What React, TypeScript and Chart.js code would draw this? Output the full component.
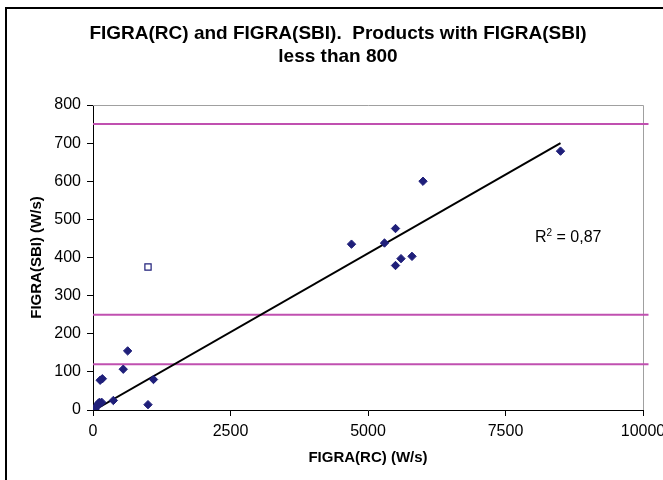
import React, { useEffect, useRef } from "react";
import { Chart, registerables } from "chart.js";

Chart.register(...registerables);

const FONT = "'Liberation Sans', Arial, Helvetica, sans-serif";

// Filled diamonds: products (FIGRA(RC), FIGRA(SBI))
const figraRC = [25, 40, 60, 80, 100, 120, 160, 130, 170, 370, 550, 630, 1000, 1100, 4700, 5300, 5500, 5500, 5600, 5800, 6000, 8500];
const figraSBI = [0, 3, 8, 12, 18, 20, 20, 78, 82, 25, 107, 155, 14, 80, 435, 438, 476, 379, 397, 403, 600, 679];

// Open square (outlier)
const outlierRC = [1000];
const outlierSBI = [375];

// Linear trend line end points
const trendRC = [25, 8500];
const trendSBI = [0, 700];

// Horizontal class limits
const limitLevels = [750, 250, 120];
const limitSpan = [0, 10100];

const xMin = 0, xMax = 10000, xStep = 2500;
const yMin = 0, yMax = 800, yStep = 100;

const titleLines = ["FIGRA(RC) and FIGRA(SBI).  Products with FIGRA(SBI)", "less than 800"];
const xTitle = "FIGRA(RC) (W/s)";
const yTitle = "FIGRA(SBI) (W/s)";
const r2Text = "0,87";

const NAVY = "#1f1f7a";
const MAGENTA = "#c050b0";

export default function App() {
  const ref = useRef<HTMLCanvasElement | null>(null);

  useEffect(() => {
    document.body.style.margin = "0";
    const canvas = ref.current;
    if (!canvas) return;

    const decor = {
      id: "decor",
      beforeDraw(chart: any) {
        const ctx = chart.ctx;
        ctx.save();
        ctx.fillStyle = "#ffffff";
        ctx.fillRect(0, 0, chart.width, chart.height);
        ctx.fillStyle = "#000000";
        ctx.fillRect(5, 7, 2, chart.height);
        ctx.fillRect(5, 7, chart.width, 2);
        ctx.restore();
      },
      beforeDatasetsDraw(chart: any) {
        const { left, top, right, bottom } = chart.chartArea;
        const ctx = chart.ctx;
        ctx.save();
        ctx.strokeStyle = "#a0a0a0";
        ctx.lineWidth = 1;
        ctx.beginPath();
        ctx.moveTo(left, top + 0.5);
        ctx.lineTo(right + 0.5, top + 0.5);
        ctx.lineTo(right + 0.5, bottom);
        ctx.stroke();
        ctx.restore();
      },
      afterDraw(chart: any) {
        const ctx = chart.ctx;
        const { left, top, right, bottom } = chart.chartArea;
        ctx.save();
        ctx.fillStyle = "#000000";
        ctx.textAlign = "center";
        ctx.textBaseline = "alphabetic";
        ctx.font = `bold 19px ${FONT}`;
        ctx.fillText(titleLines[0], 338, 39);
        ctx.fillText(titleLines[1], 338, 62);

        ctx.textBaseline = "middle";
        ctx.font = `bold 15px ${FONT}`;
        ctx.fillText(xTitle, (left + right) / 2, 458);

        ctx.save();
        ctx.translate(37, (top + bottom) / 2);
        ctx.rotate(-Math.PI / 2);
        ctx.fillText(yTitle, 0, 0);
        ctx.restore();

        // R² label
        ctx.textAlign = "left";
        ctx.textBaseline = "alphabetic";
        const x0 = 535, base = 242;
        ctx.font = `16px ${FONT}`;
        ctx.fillText("R", x0, base);
        const wR = ctx.measureText("R").width;
        ctx.font = `10px ${FONT}`;
        ctx.fillText("2", x0 + wR, base - 6);
        const w2 = ctx.measureText("2").width;
        ctx.font = `16px ${FONT}`;
        ctx.fillText(" = " + r2Text, x0 + wR + w2, base);
        ctx.restore();
      },
    };

    const limitSets = limitLevels.map((lv) => ({
      type: "line" as const,
      data: limitSpan.map((x) => ({ x, y: lv })),
      borderColor: MAGENTA,
      borderWidth: 2,
      pointRadius: 0,
      fill: false,
      clip: false as any,
    }));

    const chart = new Chart(canvas, {
      type: "scatter",
      data: {
        datasets: [
          {
            data: figraRC.map((x, i) => ({ x, y: figraSBI[i] })),
            pointStyle: "rectRot",
            pointRadius: 4.2,
            backgroundColor: NAVY,
            borderColor: NAVY,
            borderWidth: 1,
            showLine: false,
          },
          {
            data: outlierRC.map((x, i) => ({ x, y: outlierSBI[i] })),
            pointStyle: "rect",
            pointRadius: 4.4,
            backgroundColor: "#ffffff",
            borderColor: NAVY,
            borderWidth: 1.2,
            showLine: false,
          },
          {
            type: "line",
            data: trendRC.map((x, i) => ({ x, y: trendSBI[i] })),
            borderColor: "#000000",
            borderWidth: 2,
            pointRadius: 0,
            fill: false,
          } as any,
          ...(limitSets as any[]),
        ],
      },
      options: {
        responsive: false,
        animation: false,
        devicePixelRatio: 1,
        layout: { padding: { left: 0, right: 20, top: 105, bottom: 0 } },
        plugins: {
          legend: { display: false },
          tooltip: { enabled: false },
          title: { display: false },
        },
        scales: {
          x: {
            type: "linear",
            min: xMin,
            max: xMax,
            ticks: {
              stepSize: xStep,
              color: "#000",
              font: { family: FONT, size: 16 },
              padding: 6,
              maxRotation: 0,
              callback: (v: any) => String(v),
            },
            grid: { drawOnChartArea: false, drawTicks: true, tickLength: 6, color: "#000" },
            border: { color: "#000", width: 1 },
            afterFit: (s: any) => { s.height = 70; s.paddingLeft = 0; s.paddingRight = 0; },
          },
          y: {
            type: "linear",
            min: yMin,
            max: yMax,
            ticks: {
              stepSize: yStep,
              color: "#000",
              font: { family: FONT, size: 16 },
              padding: 6,
              callback: (v: any) => String(v),
            },
            grid: { drawOnChartArea: false, drawTicks: true, tickLength: 6, color: "#000" },
            border: { color: "#000", width: 1 },
            afterFit: (s: any) => { s.width = 93; s.paddingTop = 0; s.paddingBottom = 0; },
          },
        },
      },
      plugins: [decor],
    });

    return () => chart.destroy();
  }, []);

  return (
    <div style={{ position: "absolute", left: 0, top: 0, width: 663, height: 480 }}>
      <canvas ref={ref} width={663} height={480} style={{ width: 663, height: 480 }} />
    </div>
  );
}
